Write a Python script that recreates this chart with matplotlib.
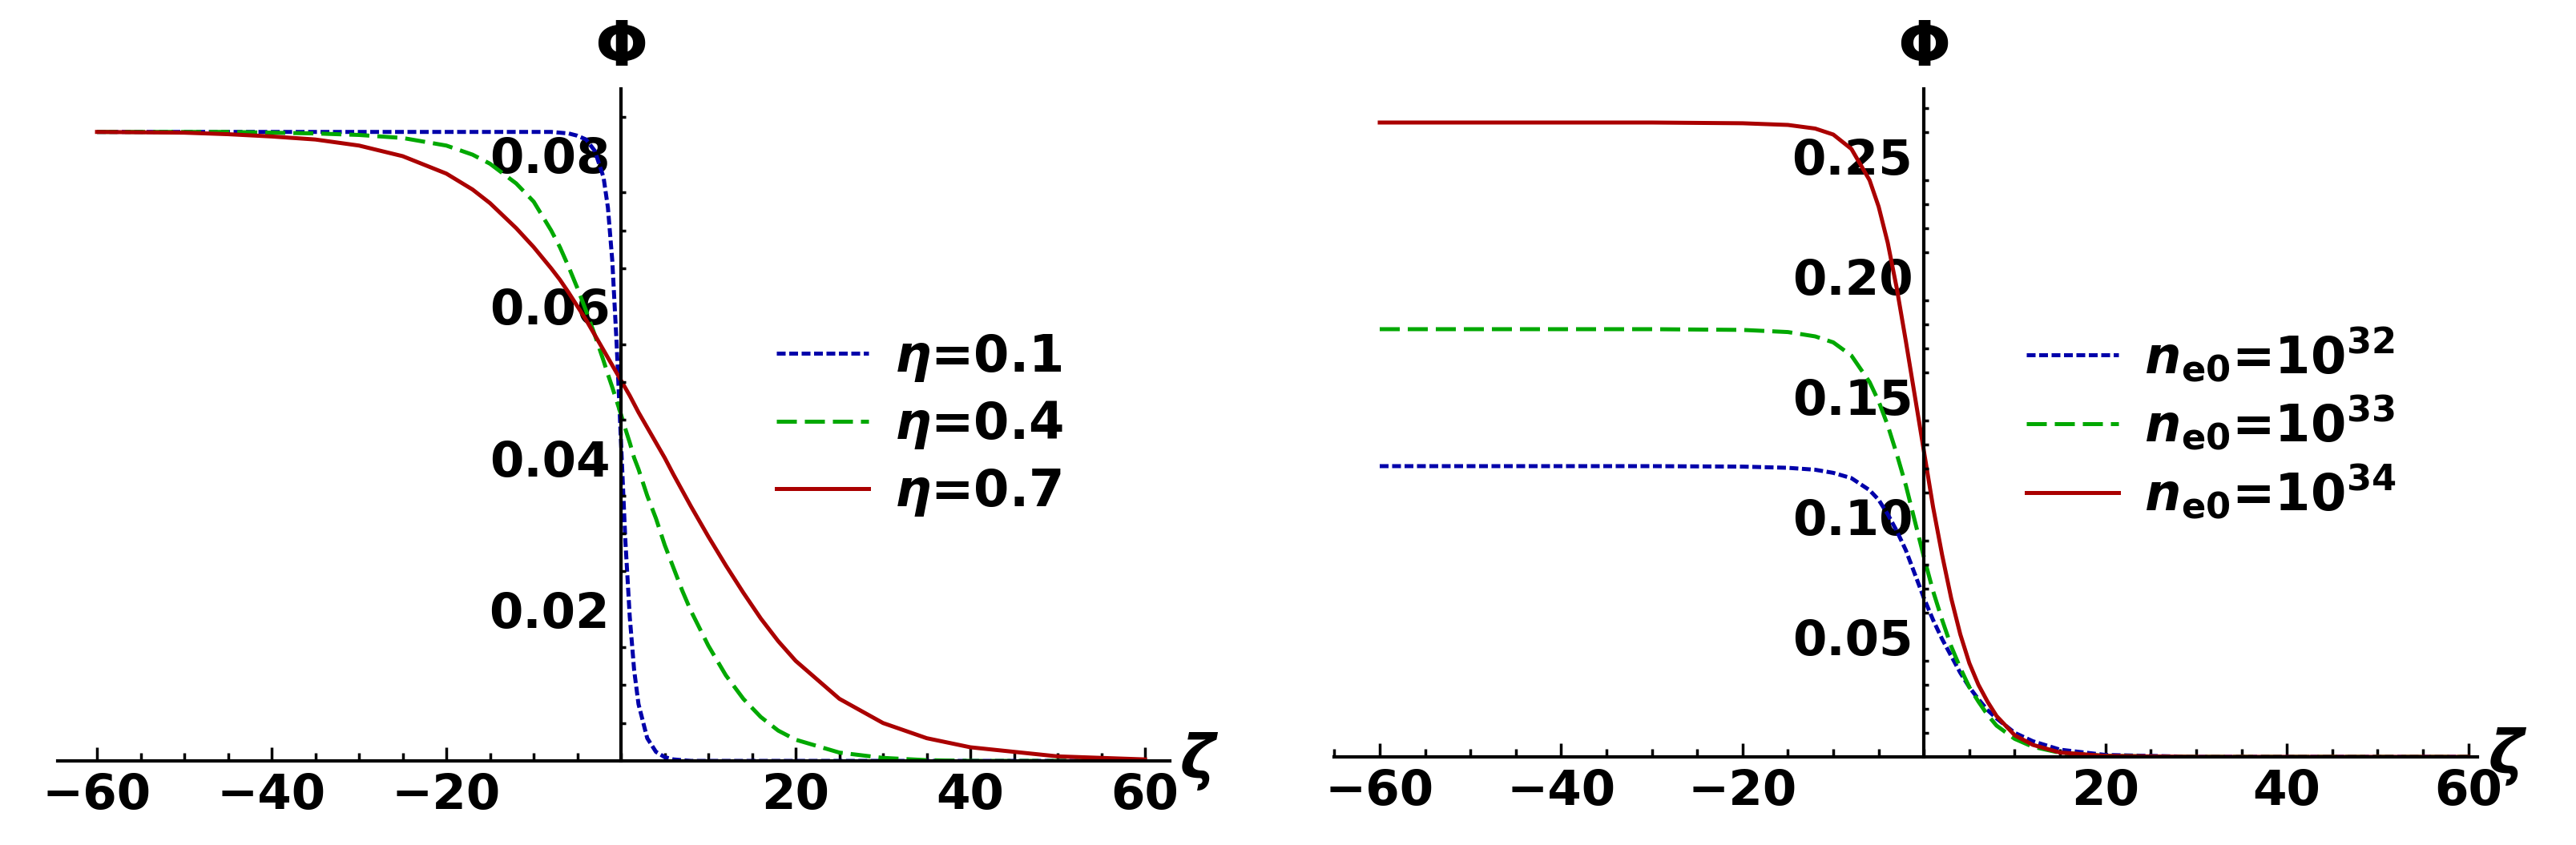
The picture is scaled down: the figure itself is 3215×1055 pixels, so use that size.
import matplotlib.pyplot as plt
from matplotlib.ticker import MultipleLocator

plt.rcParams['font.family'] = ['DejaVu Sans']
plt.rcParams['font.weight'] = 'bold'
plt.rcParams['mathtext.fontset'] = 'dejavusans'

# left panel: different eta
zeta_a = [-60, -50, -45, -40, -35, -30, -25, -20, -17, -15, -12, -10, -8, -7, -6, -5, -4, -3, -2, -1.5, -1, -0.5, 0,
          0.5, 1, 1.5, 2, 3, 4, 5, 6, 7, 8, 10, 12, 14, 16, 18, 20, 25, 30, 35, 40, 50, 60]
phi_eta01 = [0.083, 0.083, 0.083, 0.083, 0.083, 0.083, 0.083, 0.083, 0.083, 0.083, 0.083, 0.083, 0.083, 0.0829, 0.0828,
             0.0825, 0.082, 0.0805, 0.077, 0.073, 0.066, 0.055, 0.042,
             0.029, 0.019, 0.012, 0.0075, 0.003, 0.0012, 0.0005, 0.0002, 0.0001, 0.0, 0.0, 0.0, 0.0, 0.0, 0.0, 0.0,
             0.0, 0.0, 0.0, 0.0, 0.0, 0.0]
phi_eta04 = [0.083, 0.083, 0.083, 0.0829, 0.0828, 0.0826, 0.0822, 0.0812, 0.080, 0.0788, 0.0762, 0.0738, 0.070, 0.0678,
             0.0652, 0.0624, 0.0594, 0.0562, 0.0528, 0.051, 0.0493, 0.0475, 0.0457,
             0.0438, 0.042, 0.040, 0.0385, 0.035, 0.032, 0.0285, 0.0255, 0.0225, 0.0198, 0.0152, 0.0113, 0.0082,
             0.0058, 0.004, 0.0028, 0.0011, 0.0004, 0.0001, 0.0, 0.0, 0.0]
phi_eta07 = [0.083, 0.0829, 0.0827, 0.0824, 0.082, 0.0812, 0.0798, 0.0775, 0.0754, 0.0736, 0.0703, 0.0678, 0.065, 0.0635,
             0.0618, 0.06, 0.0582, 0.0562, 0.0542, 0.0532, 0.0522, 0.0512, 0.0502,
             0.0492, 0.0482, 0.0471, 0.046, 0.044, 0.042, 0.040, 0.0378, 0.0357, 0.0336, 0.0296, 0.0258, 0.0222,
             0.0188, 0.0158, 0.0132, 0.0082, 0.005, 0.003, 0.0018, 0.0006, 0.0002]

# right panel: different n_e0
zeta_b = [-60, -40, -30, -20, -15, -12, -10, -8, -6, -5, -4, -3, -2, -1, 0,
          1, 2, 3, 4, 5, 6, 7, 8, 10, 12, 15, 20, 30, 40, 50, 60]
phi_n32 = [0.121, 0.121, 0.121, 0.1208, 0.1203, 0.1195, 0.1182, 0.116, 0.111, 0.107, 0.101, 0.094, 0.086, 0.076, 0.066,
           0.057, 0.049, 0.042, 0.035, 0.029, 0.024, 0.0195, 0.016, 0.010, 0.0065, 0.003, 0.0008, 0.0, 0.0, 0.0, 0.0]
phi_n33 = [0.178, 0.178, 0.178, 0.1777, 0.1768, 0.175, 0.1725, 0.167, 0.156, 0.148, 0.138, 0.126, 0.113, 0.098, 0.083,
           0.069, 0.057, 0.046, 0.037, 0.029, 0.023, 0.0175, 0.013, 0.0075, 0.0042, 0.0017, 0.0004, 0.0, 0.0, 0.0, 0.0]
phi_n34 = [0.264, 0.264, 0.264, 0.2637, 0.263, 0.2615, 0.259, 0.253, 0.240, 0.229, 0.214, 0.195, 0.173, 0.150, 0.127,
           0.104, 0.084, 0.066, 0.051, 0.039, 0.030, 0.023, 0.017, 0.009, 0.005, 0.0018, 0.0004, 0.0, 0.0, 0.0, 0.0]

blue, green, red = '#0000aa', '#00a800', '#aa0000'
lw = 3.6
fs = 44

fig = plt.figure(figsize=(32.15, 10.55), dpi=100)
ax1 = fig.add_axes([0.0224, 0.0995, 0.4316, 0.7955])
ax2 = fig.add_axes([0.518, 0.1043, 0.4437, 0.7905])


def style_axis(ax, xlim, ylim, ymajor, yminor):
    ax.set_xlim(*xlim)
    ax.set_ylim(*ylim)
    for s in ['top', 'right']:
        ax.spines[s].set_visible(False)
    ax.spines['left'].set_position(('data', 0))
    ax.spines['bottom'].set_position(('data', 0))
    ax.spines['left'].set_linewidth(3)
    ax.spines['bottom'].set_linewidth(3)
    ax.xaxis.set_major_locator(MultipleLocator(20))
    ax.xaxis.set_minor_locator(MultipleLocator(5))
    ax.yaxis.set_major_locator(MultipleLocator(ymajor))
    ax.yaxis.set_minor_locator(MultipleLocator(yminor))
    ax.tick_params(which='both', direction='in', width=2.5, labelsize=fs, pad=10)
    ax.tick_params(which='major', length=12)
    ax.tick_params(which='minor', length=7)
    ax.tick_params(axis='y', which='both', left=False, right=False)
    ax.set_xticks([v for v in range(-60, 61, 20) if v != 0])
    for lab in ax.get_xticklabels():
        lab.set_fontweight('bold')
    yt = [t for t in ax.get_yticks() if 0 < t < ylim[1] - 1e-9]
    ax.set_yticks(yt)
    ax.set_yticklabels([f'{t:.2f}' for t in yt], fontweight='bold')
    # y ticks point to the right of the axis, labels stay left
    ymin_ticks = [t for t in ax.yaxis.get_minorticklocs() if 0 < t < ylim[1]]
    for t in ymin_ticks:
        big = any(abs(t - m) < 1e-9 for m in yt)
        ax.plot([0, 0.9 if big else 0.55], [t, t], color='black', lw=2.5,
                clip_on=False, solid_capstyle='butt')
    ax.text(xlim[1] + 1.2, 0, 'ζ', fontsize=fs + 10, style='italic', fontweight='bold',
            va='center', ha='left', clip_on=False)
    ax.text(0, ylim[1] * 1.015, 'Φ', fontsize=fs + 12, fontweight='bold',
            va='bottom', ha='center', clip_on=False)


ax1.plot(zeta_a, phi_eta01, color=blue, lw=lw, ls=(0, (2.2, 0.9)), label=r'$\boldsymbol{\eta}$=0.1')
ax1.plot(zeta_a, phi_eta04, color=green, lw=lw, ls=(0, (5, 2)), label=r'$\boldsymbol{\eta}$=0.4')
ax1.plot(zeta_a, phi_eta07, color=red, lw=lw, label=r'$\boldsymbol{\eta}$=0.7')
style_axis(ax1, (-64.5, 62.8), (0, 0.0887), 0.02, 0.005)
ax1.legend(loc='center left', bbox_to_anchor=(0.605, 0.5), frameon=False, fontsize=fs + 2,
           handlelength=1.8, labelspacing=0.3, handletextpad=0.5)

ax2.plot(zeta_b, phi_n32, color=blue, lw=lw, ls=(0, (2.2, 0.9)), label=r'$\boldsymbol{n}_{\mathbf{e0}}$=10$^{\mathbf{32}}$')
ax2.plot(zeta_b, phi_n33, color=green, lw=lw, ls=(0, (5, 2)), label=r'$\boldsymbol{n}_{\mathbf{e0}}$=10$^{\mathbf{33}}$')
ax2.plot(zeta_b, phi_n34, color=red, lw=lw, label=r'$\boldsymbol{n}_{\mathbf{e0}}$=10$^{\mathbf{34}}$')
style_axis(ax2, (-65, 61), (0, 0.278), 0.05, 0.01)
ax2.legend(loc='center left', bbox_to_anchor=(0.565, 0.5), frameon=False, fontsize=fs + 2,
           handlelength=1.8, labelspacing=0.2, handletextpad=0.5)

fig.savefig('out.png', dpi=100)
